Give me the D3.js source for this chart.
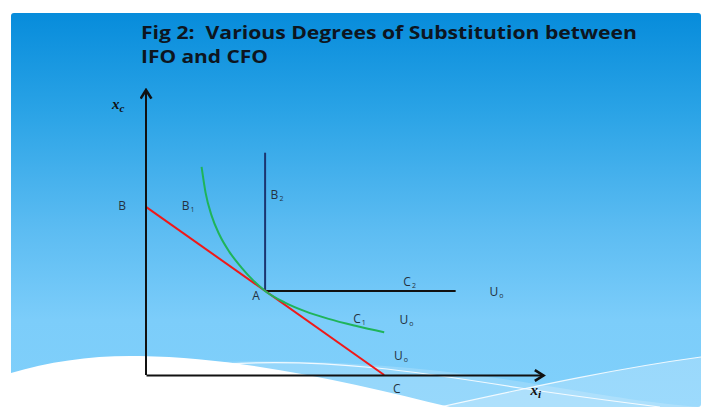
<!DOCTYPE html>
<html>
<head>
<meta charset="utf-8">
<script src="https://cdn.jsdelivr.net/npm/d3@7"></script>
<style>
  body { margin: 0; background: #fff; }
  svg { display: block; }
</style>
</head>
<body>
<div id="chart"></div>
<script>
// chart values (data units, axes go 0..100)
var budgetLine = [[0, 59], [60, 0]];                 // B -> C
var curveC1 = [[14, 73], [15, 64], [16.5, 56], [18.5, 49.2], [21, 43.2], [24, 37.8],
               [27, 33.2], [30, 29.5], [35, 25.4], [40, 22.4], [46, 19.7], [53, 17.2], [60, 15]];
var kinkVertical = [[30, 78], [30, 29.5]];           // B2 -> A
var kinkHorizontal = [[30, 29.5], [78, 29.5]];       // A -> C2
var titleLines = ["Fig 2:  Various Degrees of Substitution between", "IFO and CFO"];
var labels = [
  {t: "B",  s: "",  x: -6,   y: 58.9},
  {t: "B",  s: "1", x: 10.6, y: 58.9},
  {t: "B",  s: "2", x: 33,   y: 62.8},
  {t: "C",  s: "2", x: 66.4, y: 32.3},
  {t: "A",  s: "",  x: 27.7, y: 27.2},
  {t: "C",  s: "1", x: 53.8, y: 19.3},
  {t: "U",  s: "o", x: 88.3, y: 28.8},
  {t: "U",  s: "o", x: 65.6, y: 19},
  {t: "U",  s: "o", x: 64.2, y: 6.3},
  {t: "C",  s: "",  x: 63.2, y: -5.3}
];

var W = 701, H = 407;

var svg = d3.select("#chart").append("svg")
    .attr("width", W)
    .attr("height", H);

var defs = svg.append("defs");
var grad = defs.append("linearGradient")
    .attr("id", "bg").attr("x1", 0).attr("y1", 0).attr("x2", 0).attr("y2", 1);
grad.append("stop").attr("offset", "0%").attr("stop-color", "#078cdb");
grad.append("stop").attr("offset", "25%").attr("stop-color", "#2aa3e6");
grad.append("stop").attr("offset", "55%").attr("stop-color", "#5cbcf2");
grad.append("stop").attr("offset", "78%").attr("stop-color", "#7ccdfa");
grad.append("stop").attr("offset", "100%").attr("stop-color", "#80d0fb");

// arrow heads
["arrowUp", "arrowRight"].forEach(function(id) {
  defs.append("marker")
      .attr("id", id)
      .attr("viewBox", "-10 -6 12 12")
      .attr("refX", 0).attr("refY", 0)
      .attr("markerWidth", 13).attr("markerHeight", 13)
      .attr("markerUnits", "userSpaceOnUse")
      .attr("orient", "auto")
    .append("path")
      .attr("d", "M-8,-5L0,0L-8,5")
      .attr("fill", "none")
      .attr("stroke", "#111")
      .attr("stroke-width", 2.4);
});

// background panel
svg.append("rect")
    .attr("x", 11).attr("y", 13)
    .attr("width", W - 11).attr("height", H - 13)
    .attr("rx", 3)
    .attr("fill", "url(#bg)");

// bottom wave decoration
svg.append("path")
    .attr("d", "M200,363 C330,356 470,372 560,388 C620,398 660,404 701,407 L701,407 L200,407 Z")
    .attr("fill", "rgba(255,255,255,0.18)");
svg.append("path")
    .attr("d", "M440,407 C540,385 620,368 701,357 L701,407 Z")
    .attr("fill", "rgba(255,255,255,0.22)");
svg.append("path")
    .attr("d", "M0,407 L0,373 L11,373 C50,361 95,355 140,356 C250,358 360,385 450,407 Z")
    .attr("fill", "#fff");
svg.append("path")
    .attr("d", "M226,364 C330,358 420,372 520,388 C580,397 620,402 660,407")
    .attr("fill", "none").attr("stroke", "rgba(255,255,255,0.85)").attr("stroke-width", 1.2);
svg.append("path")
    .attr("d", "M440,407 C540,385 620,368 701,357")
    .attr("fill", "none").attr("stroke", "rgba(255,255,255,0.85)").attr("stroke-width", 1.2);

// title
var title = svg.append("text")
    .attr("font-family", "'Open Sans', sans-serif")
    .attr("font-weight", "bold")
    .attr("font-size", 18)
    .attr("fill", "#0d1520")
    .style("white-space", "pre");
title.append("tspan").attr("x", 141).attr("y", 39)
    .attr("textLength", 496).attr("lengthAdjust", "spacingAndGlyphs")
    .text(titleLines[0]);
title.append("tspan").attr("x", 141).attr("y", 63)
    .attr("textLength", 127).attr("lengthAdjust", "spacingAndGlyphs")
    .text(titleLines[1]);

// scales
var x = d3.scaleLinear().domain([0, 100]).range([146, 543]);
var y = d3.scaleLinear().domain([0, 100]).range([375, 90]);

var line = d3.line()
    .x(function(d) { return x(d[0]); })
    .y(function(d) { return y(d[1]); });

// kinked curve (perfect complements)
svg.append("path")
    .datum(kinkVertical)
    .attr("d", line)
    .attr("fill", "none")
    .attr("stroke", "#1b3570")
    .attr("stroke-width", 2);
svg.append("path")
    .datum(kinkHorizontal)
    .attr("d", line)
    .attr("fill", "none")
    .attr("stroke", "#111")
    .attr("stroke-width", 2);

// budget line
svg.append("path")
    .datum(budgetLine)
    .attr("d", line)
    .attr("fill", "none")
    .attr("stroke", "#f01818")
    .attr("stroke-width", 2);

// convex indifference curve
svg.append("path")
    .datum(curveC1)
    .attr("d", line.curve(d3.curveMonotoneX))
    .attr("fill", "none")
    .attr("stroke", "#1fb45a")
    .attr("stroke-width", 2);

// axes
var xAxis = svg.append("g")
    .attr("transform", "translate(0," + y(0) + ")")
    .call(d3.axisBottom(x).ticks(0).tickSize(0).tickSizeOuter(0));
xAxis.select(".domain")
    .attr("stroke", "#111").attr("stroke-width", 2)
    .attr("marker-end", "url(#arrowRight)");

var yAxis = svg.append("g")
    .attr("transform", "translate(" + x(0) + ",0)")
    .call(d3.axisLeft(y).ticks(0).tickSize(0).tickSizeOuter(0));
yAxis.select(".domain")
    .attr("stroke", "#111").attr("stroke-width", 2)
    .attr("d", "M0," + y(0) + "V" + y(100))
    .attr("marker-end", "url(#arrowUp)");

// axis titles
var xc = svg.append("text")
    .attr("x", x(-7)).attr("y", y(94.4))
    .attr("text-anchor", "middle")
    .attr("dominant-baseline", "middle")
    .attr("font-family", "'Liberation Serif', serif")
    .attr("font-style", "italic").attr("font-weight", "bold")
    .attr("font-size", 15).attr("fill", "#111");
xc.append("tspan").text("x");
xc.append("tspan").attr("font-size", 11).attr("dy", 3).text("c");

var xi = svg.append("text")
    .attr("x", x(98.2)).attr("y", y(-6))
    .attr("text-anchor", "middle")
    .attr("dominant-baseline", "middle")
    .attr("font-family", "'Liberation Serif', serif")
    .attr("font-style", "italic").attr("font-weight", "bold")
    .attr("font-size", 15).attr("fill", "#111");
xi.append("tspan").text("x");
xi.append("tspan").attr("font-size", 11).attr("dy", 3).text("i");

// point labels
labels.forEach(function(l) {
  var t = svg.append("text")
      .attr("x", x(l.x)).attr("y", y(l.y))
      .attr("text-anchor", "middle")
      .attr("dominant-baseline", "middle")
      .attr("font-family", "'Open Sans', sans-serif")
      .attr("font-size", 12)
      .attr("fill", "#25323f");
  t.append("tspan").text(l.t);
  if (l.s) {
    t.append("tspan").attr("font-size", 7).attr("dy", 3).attr("dx", 1).text(l.s);
  }
});
</script>
</body>
</html>
